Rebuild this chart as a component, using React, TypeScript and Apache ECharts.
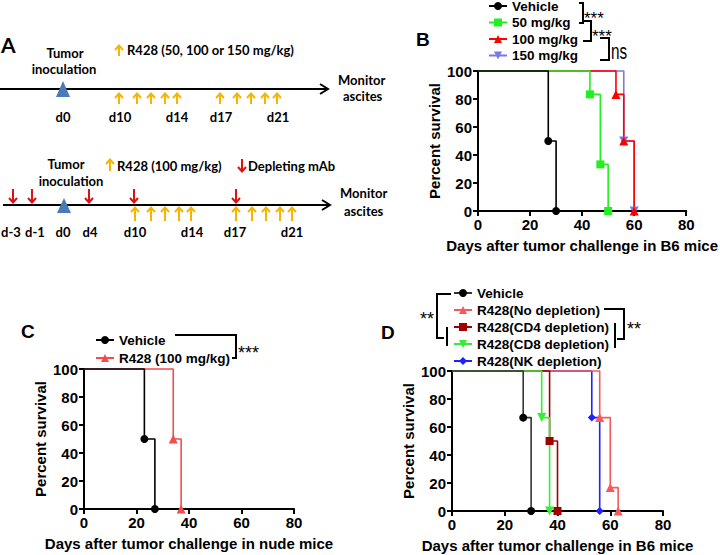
import React, { useEffect, useRef } from "react";
import * as echarts from "echarts";

// ---------- data ----------
const xTickMax = 80;
const yTickMax = 100;

// Panel B (B6 mice, R428 doses)
const bVehicle = [[0, 100], [27, 50], [30, 0]];
const b50 = [[0, 100], [43, 83.3], [47, 33.3], [50, 0]];
const b100 = [[0, 100], [53, 83.3], [56, 50], [60, 0]];
const b150 = [[0, 100], [56, 50], [60, 0]];

// Panel C (nude mice)
const cVehicle = [[0, 100], [23, 50], [27, 0]];
const cR428 = [[0, 100], [34, 50], [37, 0]];

// Panel D (depletion)
const dVehicle = [[0, 100], [27, 66.7], [30, 0]];
const dNoDep = [[0, 100], [56, 66.7], [60, 16.7], [63, 0]];
const dCD4 = [[0, 100], [37, 50], [40, 0]];
const dCD8 = [[0, 100], [34, 66.7], [37, 0]];
const dNK = [[0, 100], [53, 66.7], [56, 0]];

const bNames = ["Vehicle", "50 mg/kg", "100 mg/kg", "150 mg/kg"];
const cNames = ["Vehicle ", "R428 (100 mg/kg)"];
const dNames = ["Vehicle  ", "R428(No depletion)", "R428(CD4 depletion)", "R428(CD8 depletion)", "R428(NK depletion)"];

// Panel A schematic labels
const timeline1Labels = ["d0", "d10", "d14", "d17", "d21"];
const timeline2Labels = ["d-3", "d-1", "d0", "d4", "d10", "d14", "d17", "d21"];

// ---------- layout (schematic positions) ----------
const t1LabelX = [63, 120, 177, 221, 278];
const t1UpX = [119, 137, 151, 165, 177, 220, 237, 251, 265, 277];
const t2LabelX = [11, 35, 63, 90, 135, 192, 235, 292];
const t2UpX = [135, 151, 165, 179, 191, 236, 252, 266, 280, 292];
const t2DownX = [13, 32, 89, 134, 236];

const ORANGE = "#f7b500";
const RED = "#e01010";
const SANS = "Liberation Sans, Arial, sans-serif";
const CAL = "Lato, sans-serif";
const AFS = 13;

function upArrow(x: number, yTop: number, yBot: number, color: string) {
  return [
    { type: "line", shape: { x1: x, y1: yTop + 1, x2: x, y2: yBot }, style: { stroke: color, lineWidth: 2 } },
    { type: "polyline", shape: { points: [[x - 4, yTop + 5], [x, yTop + 0.5], [x + 4, yTop + 5]] }, style: { stroke: color, lineWidth: 2, fill: null } },
  ];
}
function downArrow(x: number, yTop: number, yBot: number, color: string) {
  return [
    { type: "line", shape: { x1: x, y1: yTop, x2: x, y2: yBot - 1 }, style: { stroke: color, lineWidth: 2 } },
    { type: "polyline", shape: { points: [[x - 4, yBot - 5], [x, yBot - 0.5], [x + 4, yBot - 5]] }, style: { stroke: color, lineWidth: 2, fill: null } },
  ];
}
function txt(text: string, x: number, y: number, size: number, opts: any = {}) {
  return {
    type: "text",
    x,
    y,
    style: {
      text,
      fontSize: size,
      fontFamily: opts.family || CAL,
      fontWeight: opts.weight || "bold",
      fill: opts.color || "#000",
      align: opts.align || "left",
      verticalAlign: "middle",
    },
    scaleY: opts.scaleY || 1,
    scaleX: opts.scaleX || 1,
  };
}
function pl(points: number[][]) {
  return { type: "polyline", shape: { points }, style: { stroke: "#000", lineWidth: 2, fill: null } };
}

function buildGraphic() {
  const g: any[] = [];
  // Panel A letter
  g.push(txt("A", 1, 44, 21, { family: CAL }));
  // Timeline 1
  g.push({ type: "line", shape: { x1: 0, y1: 89, x2: 327, y2: 89 }, style: { stroke: "#000", lineWidth: 2 } });
  g.push({ type: "polyline", shape: { points: [[320, 84], [328, 89], [320, 94]] }, style: { stroke: "#000", lineWidth: 2, fill: null } });
  g.push({ type: "polygon", shape: { points: [[63, 81], [56, 97], [70, 97]] }, style: { fill: "#4a7ab8" } });
  g.push(txt("Tumor", 65, 53, AFS, { align: "center" }));
  g.push(txt("inoculation", 64, 69, AFS, { align: "center" }));
  g.push(...upArrow(119, 45, 56, ORANGE));
  g.push(txt("R428 (50, 100 or 150 mg/kg)", 127, 50, AFS));
  g.push(txt("Monitor", 338, 80, AFS));
  g.push(txt("ascites", 343, 96, AFS));
  t1UpX.forEach((x) => g.push(...upArrow(x, 93, 104, ORANGE)));
  timeline1Labels.forEach((l, i) => g.push(txt(l, t1LabelX[i], 117, AFS, { align: "center" })));

  // Timeline 2
  g.push({ type: "line", shape: { x1: 3, y1: 205, x2: 329, y2: 205 }, style: { stroke: "#000", lineWidth: 2 } });
  g.push({ type: "polyline", shape: { points: [[322, 200], [330, 205], [322, 210]] }, style: { stroke: "#000", lineWidth: 2, fill: null } });
  g.push({ type: "polygon", shape: { points: [[64, 198], [57, 213], [71, 213]] }, style: { fill: "#4a7ab8" } });
  g.push(txt("Tumor", 66, 164, AFS, { align: "center" }));
  g.push(txt("inoculation", 71, 181, AFS, { align: "center" }));
  g.push(...upArrow(110, 159, 171, ORANGE));
  g.push(txt("R428 (100 mg/kg)", 117, 166, AFS));
  g.push(...downArrow(242, 159, 172, RED));
  g.push(txt("Depleting mAb", 248, 166, AFS));
  g.push(txt("Monitor", 340, 193, AFS));
  g.push(txt("ascites", 344, 211, AFS));
  t2DownX.forEach((x) => g.push(...downArrow(x, 189, 203, RED)));
  t2UpX.forEach((x) => g.push(...upArrow(x, 207, 221, ORANGE)));
  timeline2Labels.forEach((l, i) => g.push(txt(l, t2LabelX[i], 232, AFS, { align: "center" })));

  // Panel letters
  g.push(txt("B", 416, 39, 19, { family: SANS }));
  g.push(txt("C", 21, 331, 19, { family: SANS }));
  g.push(txt("D", 381, 332, 19, { family: SANS }));

  // Panel B brackets
  g.push(pl([[579, 3], [583, 3], [583, 23], [579, 23]]));
  g.push(txt("***", 584, 18, 17, { family: SANS, weight: "normal" }));
  g.push(pl([[583, 21], [591, 21], [591, 41], [583, 41]]));
  g.push(txt("***", 592, 36, 17, { family: SANS, weight: "normal" }));
  g.push(pl([[600, 38], [609, 38], [609, 60], [600, 60]]));
  g.push({
    type: "text",
    x: 611,
    y: 51,
    scaleX: 0.9,
    scaleY: 1.3,
    style: { text: "ns", fontSize: 17, fontFamily: SANS, fontWeight: "normal", fill: "#000", align: "left", verticalAlign: "middle" },
  });

  // Panel C bracket
  g.push(pl([[175, 335], [236, 335], [236, 358], [232, 358]]));
  g.push(txt("***", 238, 353, 18, { family: SANS, weight: "normal" }));

  // Panel D brackets
  g.push(pl([[451, 294], [437, 294], [437, 338], [444, 338]]));
  g.push(pl([[447, 327], [447, 346]]));
  g.push(txt("**", 420, 319, 18, { family: SANS, weight: "normal" }));
  g.push(pl([[604, 309], [624, 309], [624, 339], [617, 339]]));
  g.push(pl([[615, 323], [615, 348]]));
  g.push(txt("**", 627, 329, 18, { family: SANS, weight: "normal" }));
  return g;
}

function km(name: string, data: number[][], color: string, symbol: string, size: number, idx: number, rotate = 0, lineColor?: string) {
  return {
    type: "line",
    name,
    xAxisIndex: idx,
    yAxisIndex: idx,
    step: "end",
    data: data.map((p, i) => (i === 0 ? { value: p, symbol: "none" } : { value: p })),
    symbol,
    symbolSize: size,
    symbolRotate: rotate,
    showSymbol: true,
    showAllSymbol: true,
    clip: false,
    lineStyle: { color: lineColor || color, width: 1.6 },
    itemStyle: { color },
    emphasis: { disabled: true },
  };
}

function xAxis(idx: number, title: string) {
  return {
    type: "value",
    gridIndex: idx,
    min: 0,
    max: xTickMax,
    interval: 20,
    name: title,
    nameLocation: "middle",
    nameGap: 27,
    nameTextStyle: { fontFamily: SANS, fontWeight: "bold", fontSize: 15, color: "#000" },
    axisLine: { lineStyle: { color: "#000", width: 2 } },
    axisTick: { show: true, length: 5, lineStyle: { color: "#000", width: 2 } },
    axisLabel: { fontFamily: SANS, fontWeight: "bold", fontSize: 15, color: "#000", margin: 6 },
    splitLine: { show: false },
  };
}
function yAxis(idx: number) {
  return {
    type: "value",
    gridIndex: idx,
    min: 0,
    max: yTickMax,
    interval: 20,
    name: "Percent survival",
    nameLocation: "middle",
    nameRotate: 90,
    nameGap: 36,
    nameTextStyle: { fontFamily: SANS, fontWeight: "bold", fontSize: 15, color: "#000" },
    axisLine: { show: true, lineStyle: { color: "#000", width: 2 } },
    axisTick: { show: true, length: 5, lineStyle: { color: "#000", width: 2 } },
    axisLabel: { fontFamily: SANS, fontWeight: "bold", fontSize: 15, color: "#000", margin: 6 },
    splitLine: { show: false },
  };
}
function legend(names: string[], left: number, top: number, gap: number) {
  return {
    data: names,
    orient: "vertical",
    left,
    top,
    itemGap: gap,
    itemWidth: 18,
    itemHeight: 10,
    selectedMode: false,
    formatter: (n: string) => n.trim(),
    textStyle: { fontFamily: SANS, fontWeight: "bold", fontSize: 13.5, color: "#000", padding: [0, 0, 0, 0] },
    padding: 0,
  };
}

export default function App() {
  const ref = useRef<HTMLDivElement>(null);
  useEffect(() => {
    if (!ref.current) return;
    const chart = echarts.init(ref.current, undefined, { renderer: "svg" });
    const option: any = {
      animation: false,
      backgroundColor: "#fff",
      grid: [
        { left: 478, top: 71, width: 213, height: 140 },
        { left: 84, top: 369, width: 210, height: 140 },
        { left: 452, top: 371, width: 211, height: 140 },
      ],
      xAxis: [
        xAxis(0, "Days after tumor challenge in B6 mice"),
        xAxis(1, "Days after tumor challenge in nude mice"),
        xAxis(2, "Days after tumor challenge in B6 mice"),
      ],
      yAxis: [yAxis(0), yAxis(1), yAxis(2)],
      legend: [
        legend(bNames, 488, -1, 2.5),
        legend(cNames, 95, 333, 4),
        legend(dNames, 453, 286, 3),
      ],
      graphic: buildGraphic(),
      series: [
        km(bNames[3], b150, "#7878e6", "triangle", 9, 0, 180),
        km(bNames[2], b100, "#ff0000", "triangle", 9, 0),
        km(bNames[1], b50, "#22ee22", "rect", 8, 0),
        km(bNames[0], bVehicle, "#000", "circle", 8, 0),
        km(cNames[1], cR428, "#f24c4c", "triangle", 9, 1),
        km(cNames[0], cVehicle, "#000", "circle", 8, 1),
        km(dNames[4], dNK, "#1f1fff", "diamond", 8, 2),
        km(dNames[1], dNoDep, "#f55a5a", "triangle", 9, 2),
        km(dNames[2], dCD4, "#a00000", "rect", 8, 2),
        km(dNames[3], dCD8, "#33ee33", "triangle", 9, 2, 180),
        km(dNames[0], dVehicle, "#000", "circle", 8, 2, 0, "#333"),
      ],
    };
    chart.setOption(option);
    return () => chart.dispose();
  }, []);
  return (
    <div style={{ position: "fixed", left: 0, top: 0, width: 720, height: 555, background: "#fff" }}>
      <div ref={ref} style={{ width: 720, height: 555 }} />
    </div>
  );
}
